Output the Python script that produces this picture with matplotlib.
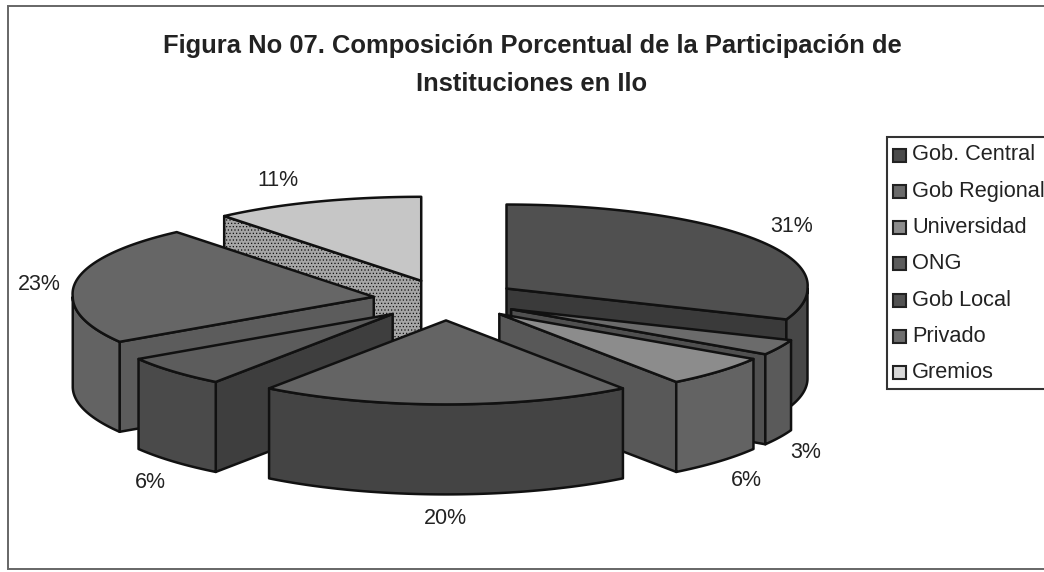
import numpy as np
import matplotlib
matplotlib.use("Agg")
import matplotlib.pyplot as plt
from matplotlib.patches import Polygon, Rectangle

plt.rcParams['font.family'] = ['Liberation Sans', 'DejaVu Sans']

categories = ["Gob. Central", "Gob Regional", "Universidad", "ONG", "Gob Local", "Privado", "Gremios"]
percent = [31, 3, 6, 20, 6, 23, 11]
top_col = ['#505050', '#6b6b6b', '#8c8c8c', '#646464', '#5c5c5c', '#666666', '#c6c6c6']
side_col = ['#474747', '#5a5a5a', '#636363', '#444444', '#4a4a4a', '#636363', '#9a9a9a']
cut_col = ['#3a3a3a', '#505050', '#585858', '#444444', '#3e3e3e', '#5c5c5c', '#a6a6a6']
leg_col = ['#4a4a4a', '#6a6a6a', '#8c8c8c', '#5c5c5c', '#525252', '#6e6e6e', '#d8d8d8']
draw_order = [6, 0, 5, 1, 2, 4, 3]

W, H = 1044, 572
CX, CY, RX, RY, DEPTH, EXPLODE, PERSP = 446, 300, 301, 84, 90, 0.243, 0.035

fig = plt.figure(figsize=(W/100, H/100), dpi=100)
ax = fig.add_axes([0, 0, 1, 1])
ax.set_xlim(0, W)
ax.set_ylim(H, 0)
ax.axis('off')

ax.add_patch(Rectangle((8, 6), W+20, 563, fc='white', ec='#666666', lw=1.4, zorder=0))

fr = np.array(percent) / sum(percent) * 360
ends = np.cumsum(fr)
starts = ends - fr
LW = 1.8


def proj(ang, r, ox, oy):
    a = np.radians(ang)
    return ox + RX*r*np.sin(a)*(1 + PERSP*np.maximum(np.cos(a), 0)), oy - RY*r*np.cos(a)


def face(pts, col, hatch=None):
    ax.add_patch(Polygon(pts, closed=True, fc=col, ec='#111111', lw=LW, joinstyle='round',
                         hatch=hatch, zorder=2))


plt.rcParams['hatch.linewidth'] = 0.5
plt.rcParams['hatch.color'] = '#8a8a8a'
for i in draw_order:
    a, b = starts[i], ends[i]
    mid = np.radians((a+b)/2)
    ox = CX + RX*EXPLODE*np.sin(mid)
    oy = CY - RY*EXPLODE*np.cos(mid)
    # cut faces
    for ang, vis in ((a, np.sin(np.radians(a)) < 0), (b, np.sin(np.radians(b)) > 0)):
        if vis:
            px, py = proj(ang, 1, ox, oy)
            face([(ox, oy), (px, py), (px, py+DEPTH), (ox, oy+DEPTH)], cut_col[i],
                 hatch='.....' if i == 6 else None)
    # outer wall, front half only
    lo, hi = max(a, 90), min(b, 270)
    if hi > lo:
        s = np.linspace(lo, hi, 80)
        x, y = proj(s, 1, ox, oy)
        pts = list(zip(x, y)) + list(zip(x[::-1], y[::-1] + DEPTH))
        face(pts, side_col[i])
    # top surface
    x, y = proj(np.linspace(a, b, 80), 1, ox, oy)
    face([(ox, oy)] + list(zip(x, y)), top_col[i])

# labels
lab_pos = [(792, 227), (806, 452), (746, 481), (445, 518), (150, 483), (39, 284), (278, 180)]
for v, (x, y) in zip(percent, lab_pos):
    ax.text(x, y, f"{v}%", ha='center', va='center', fontsize=15.5, color='#222222', zorder=5)

# legend
ax.add_patch(Rectangle((887, 137), W, 252, fc='white', ec='#333333', lw=1.5, zorder=3))
for k, name in enumerate(categories):
    y = 155 + k*36.3
    ax.add_patch(Rectangle((893, y-6.5), 13, 13, fc=leg_col[k], ec='#222222', lw=1.5, zorder=4))
    ax.text(912, y, name, ha='left', va='center', fontsize=15.7, color='#222222', zorder=5)

ax.text(532, 46, "Figura No 07. Composición Porcentual de la Participación de",
        ha='center', va='center', fontsize=18.4, fontweight='bold', color='#222222')
ax.text(532, 84, "Instituciones en Ilo",
        ha='center', va='center', fontsize=18.4, fontweight='bold', color='#222222')

fig.savefig("out.png", dpi=100)
